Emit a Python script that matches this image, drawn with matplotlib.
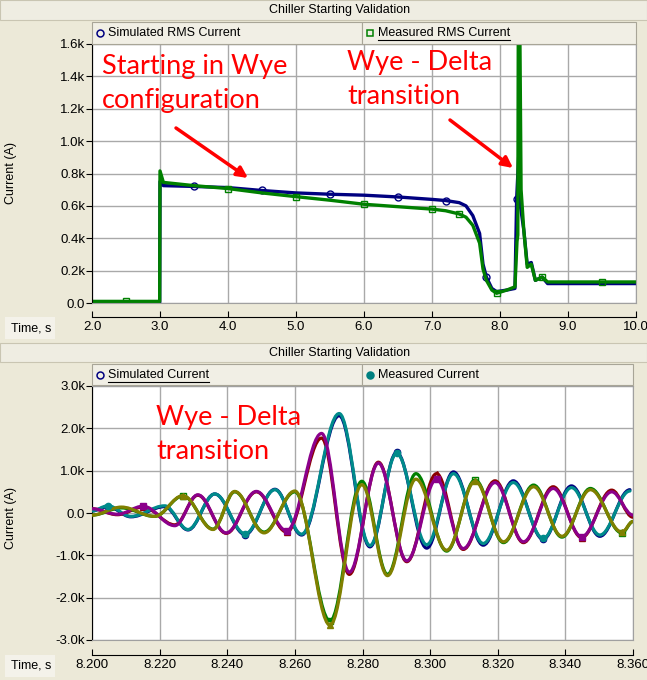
import numpy as np
import matplotlib
matplotlib.use("Agg")
import matplotlib.pyplot as plt
from matplotlib.path import Path
from matplotlib.patches import PathPatch, Rectangle
from matplotlib.lines import Line2D
from matplotlib.ticker import MultipleLocator, FuncFormatter

# ---- top panel: RMS current (kA) vs time (s) ----
sim_rms_t = [2.0, 2.5, 2.995, 3.0, 3.05, 3.5, 4.0, 4.5, 5.0, 5.5, 6.0, 6.5, 7.0, 7.2, 7.4, 7.5,
             7.6, 7.7, 7.75, 7.8, 7.88, 7.95, 8.1, 8.22, 8.245, 8.275, 8.30, 8.35, 8.40, 8.46,
             8.52, 8.62, 8.70, 9.0, 9.5, 10.0]
sim_rms = [0.0, 0.0, 0.0, 0.75, 0.725, 0.72, 0.713, 0.695, 0.68, 0.672, 0.666, 0.655, 0.64, 0.633,
           0.62, 0.60, 0.54, 0.43, 0.24, 0.16, 0.09, 0.07, 0.08, 0.09, 0.645, 0.91, 0.60, 0.45,
           0.24, 0.25, 0.14, 0.16, 0.12, 0.12, 0.12, 0.12]
meas_rms_t = [2.0, 2.5, 2.995, 3.0, 3.05, 3.5, 4.0, 4.5, 5.0, 5.5, 6.0, 6.5, 7.0, 7.2, 7.4, 7.5,
              7.6, 7.7, 7.75, 7.8, 7.88, 7.95, 8.1, 8.22, 8.25, 8.262, 8.27, 8.29, 8.31, 8.35,
              8.40, 8.46, 8.52, 8.62, 8.70, 9.0, 9.5, 10.0]
meas_rms = [0.01, 0.01, 0.01, 0.816, 0.745, 0.725, 0.707, 0.68, 0.657, 0.635, 0.61, 0.595, 0.58,
            0.57, 0.55, 0.53, 0.48, 0.37, 0.21, 0.14, 0.08, 0.06, 0.08, 0.10, 0.38, 0.42, 1.9,
            1.8, 0.70, 0.45, 0.22, 0.24, 0.14, 0.16, 0.13, 0.13, 0.13, 0.13]

# ---- bottom panel: phase currents (kA), peaks and troughs ----
ph_a_t = [8.200, 8.2047, 8.2115, 8.2215, 8.2284, 8.2363, 8.2453, 8.2541, 8.2620, 8.2731, 8.2822,
          8.2901, 8.2990, 8.3069, 8.3157, 8.3246, 8.3334, 8.3418, 8.3502, 8.3591]
meas_a = [0.05, 0.17, -0.08, 0.17, -0.39, 0.45, -0.49, 0.55, -0.50, 2.35, -0.77, 1.41, -0.75,
          0.93, -0.72, 0.72, -0.60, 0.60, -0.52, 0.52]
sim_a = [0.05, 0.15, -0.09, 0.15, -0.40, 0.45, -0.51, 0.56, -0.52, 2.30, -0.80, 1.43, -0.83,
         0.97, -0.76, 0.76, -0.62, 0.64, -0.55, 0.55]

ph_b_t = [8.200, 8.2075, 8.2151, 8.2245, 8.2313, 8.2397, 8.2486, 8.2576, 8.2679, 8.2761, 8.2847,
          8.2931, 8.3019, 8.3098, 8.3192, 8.3276, 8.3364, 8.3448, 8.3537, 8.360]
meas_b = [0.10, -0.03, 0.16, -0.30, 0.43, -0.47, 0.51, -0.42, 1.88, -1.40, 1.18, -1.13, 0.80,
          -0.84, 0.72, -0.68, 0.58, -0.56, 0.50, -0.05]
sim_b = [0.10, -0.04, 0.14, -0.28, 0.42, -0.48, 0.50, -0.45, 1.77, -1.45, 1.20, -1.15, 0.93,
         -0.86, 0.76, -0.70, 0.62, -0.58, 0.54, -0.10]

ph_c_t = [8.200, 8.2087, 8.2185, 8.2269, 8.2358, 8.2422, 8.2509, 8.2600, 8.2704, 8.2798, 8.2874,
          8.2958, 8.3049, 8.3133, 8.3217, 8.3306, 8.3390, 8.3474, 8.3567, 8.360]
meas_c = [-0.05, 0.14, -0.08, 0.41, -0.39, 0.51, -0.47, 0.52, -2.65, 0.67, -1.48, 0.80, -0.88,
          0.75, -0.68, 0.62, -0.55, 0.55, -0.45, -0.20]
sim_c = [-0.05, 0.12, -0.08, 0.40, -0.38, 0.50, -0.45, 0.50, -2.55, 0.75, -1.45, 0.93, -0.90,
         0.78, -0.70, 0.66, -0.57, 0.58, -0.47, -0.20]

W, H = 647, 680
BG = '#ECE9D8'
GRID = '#A9A9A9'
FONT = 'Liberation Sans'


def fx(px):
    return px / W


def fy(py):
    return 1 - py / H


def smooth_path(t, y, k=0.3634):
    # cubic segments with flat tangents at each peak / trough
    verts = [(t[0], y[0])]
    codes = [Path.MOVETO]
    for i in range(len(t) - 1):
        dt = t[i + 1] - t[i]
        verts += [(t[i] + k * dt, y[i]), (t[i + 1] - k * dt, y[i + 1]), (t[i + 1], y[i + 1])]
        codes += [Path.CURVE4] * 3
    return Path(verts, codes)


def kfmt(v, _):
    if abs(v) < 1e-9:
        return '0.0'
    return f'{v:.1f}k'


fig = plt.figure(figsize=(W / 100, H / 100), dpi=100, facecolor=BG)


def title_bar(y0, y1, text):
    fig.add_artist(Rectangle((0, fy(y1)), 1, (y1 - y0) / H, transform=fig.transFigure,
                             facecolor='#EFEDE2', edgecolor='#C9C5B2', lw=0.8))
    fig.text(fx(340), fy((y0 + y1) / 2), text, ha='center', va='center',
             fontsize=9, family=FONT)


def legend_bar(y0, y1, x0, x1, xsep, left, right):
    for a, b in [(x0, xsep), (xsep, x1)]:
        fig.add_artist(Rectangle((fx(a), fy(y1)), (b - a) / W, (y1 - y0) / H,
                                 transform=fig.transFigure, facecolor='#F1EFE5',
                                 edgecolor='#A8A597', lw=0.8))
    yc = fy((y0 + y1) / 2)
    for (xs, label, mk, col, filled, ul) in [(x0, *left), (xsep, *right)]:
        fig.add_artist(Line2D([fx(xs + 8)], [yc], transform=fig.transFigure, marker=mk,
                              ms=5, mec=col, mfc=col if filled else 'none', mew=1.1))
        t = fig.text(fx(xs + 16), yc, label, ha='left', va='center', fontsize=9, family=FONT)
        if ul:
            fig.canvas.draw()
            bb = t.get_window_extent()
            fig.add_artist(Line2D([bb.x0 / W, bb.x1 / W], [fy((y0 + y1) / 2 + 7)] * 2,
                                  transform=fig.transFigure, color='black', lw=0.8))


def time_box(y0, y1):
    fig.add_artist(Rectangle((fx(5), fy(y1)), 50 / W, (y1 - y0) / H, transform=fig.transFigure,
                             facecolor='#F4F2EA', edgecolor='none'))
    fig.text(fx(11), fy((y0 + y1) / 2), 'Time, s', ha='left', va='center', fontsize=9,
             family=FONT)


def style_axes(ax, offset):
    ax.set_facecolor('white')
    for s in ['top', 'right', 'bottom']:
        ax.spines[s].set_color('#A0A0A0')
    ax.spines['left'].set_color('black')
    ax.grid(True, color=GRID, lw=1.0)
    ax.set_axisbelow(True)
    ax.tick_params(axis='x', length=0, labelbottom=False)
    ax.tick_params(axis='y', direction='out', length=4, labelsize=9.5, pad=1)
    for lab in ax.get_yticklabels():
        lab.set_family(FONT)
    ax.yaxis.set_major_formatter(FuncFormatter(kfmt))
    sec = ax.secondary_xaxis(offset)
    sec.xaxis.set_major_locator(ax.xaxis.get_major_locator())
    sec.tick_params(direction='in', length=4, labelsize=9.5, pad=3)
    sec.spines['bottom'].set_color('black')
    return sec


# ---------------- top panel ----------------
title_bar(0, 20, 'Chiller Starting Validation')
legend_bar(22, 44, 92, 636, 362,
           ('Simulated RMS Current', 'o', '#000080', False, False),
           ('Measured RMS Current', 's', '#008000', False, True))

ax1 = fig.add_axes([fx(92), fy(303), 544 / W, 259 / H])
ax1.set_xlim(2.0, 10.0)
ax1.set_ylim(0, 1.6)
ax1.xaxis.set_major_locator(MultipleLocator(1.0))
ax1.yaxis.set_major_locator(MultipleLocator(0.2))
sec1 = style_axes(ax1, -14 / 259)
sec1.xaxis.set_major_formatter(FuncFormatter(lambda v, _: f'{v:.1f}'))
ax1.set_ylabel('Current (A)', fontsize=9, family=FONT)
ax1.yaxis.set_label_coords((17 - 92) / 544, 0.5)

ax1.plot(sim_rms_t, sim_rms, color='#000080', lw=2.4, solid_joinstyle='round',
         marker='o', ms=5, mfc='none', mew=1.0, markevery=[5, 7, 9, 11, 13, 19, 24])
ax1.plot(meas_rms_t, meas_rms, color='#008000', lw=2.4, solid_joinstyle='round',
         marker='s', ms=5, mfc='none', mew=1.0, markevery=[1, 6, 8, 10, 12, 14, 21, 33, 36])
time_box(317, 339)

# ---------------- bottom panel ----------------
title_bar(343, 362, 'Chiller Starting Validation')
legend_bar(364, 385, 92, 633, 362,
           ('Simulated Current', 'o', '#000080', False, True),
           ('Measured Current', 'o', '#008080', True, False))

ax2 = fig.add_axes([fx(92), fy(640), 541 / W, 254 / H])
ax2.set_xlim(8.200, 8.360)
ax2.set_ylim(-3.0, 3.0)
ax2.xaxis.set_major_locator(MultipleLocator(0.02))
ax2.yaxis.set_major_locator(MultipleLocator(1.0))
sec2 = style_axes(ax2, -15 / 254)
sec2.xaxis.set_major_formatter(FuncFormatter(lambda v, _: f'{v:.3f}'))
ax2.set_ylabel('Current (A)', fontsize=9, family=FONT)
ax2.yaxis.set_label_coords((17 - 92) / 541, 0.48)

series = [
    (ph_a_t, sim_a, '#000080', 'o', False, 2),
    (ph_b_t, sim_b, '#8B0000', '^', False, 2),
    (ph_c_t, sim_c, '#008000', 's', False, 2),
    (ph_a_t, meas_a, '#008B8B', 'o', True, 3),
    (ph_b_t, meas_b, '#8B008B', 's', True, 3),
    (ph_c_t, meas_c, '#808000', '^', True, 3),
]
for i, (t, y, col, mk, filled, z) in enumerate(series):
    ax2.add_patch(PathPatch(smooth_path(t, y), fill=False, edgecolor=col, lw=2.3,
                            joinstyle='round', capstyle='round', zorder=z))
    ax2.plot(t, y, ls='none', marker=mk, ms=4.5, mec=col, mfc=col if filled else 'none',
             mew=1.0, markevery=slice(1 + i % 3, None, 5), zorder=z + 0.5)
time_box(655, 677)

for sec in (sec1, sec2):
    for lab in sec.get_xticklabels():
        lab.set_family(FONT)

# ---------------- annotations ----------------
ann = dict(color='#FF0000', fontsize=19.5, family='Lato', ha='left', va='top', linespacing=1.45)
fig.text(fx(102), fy(54), 'Starting in Wye\nconfiguration', **ann)
fig.text(fx(347), fy(50), 'Wye - Delta\ntransition', **ann)
fig.text(fx(156), fy(405), 'Wye - Delta\ntransition', **ann)
arrow = dict(arrowstyle='-|>', color='#FF0000', lw=2.5, mutation_scale=16,
             shrinkA=0, shrinkB=0)
ax1.annotate('', xy=(fx(248), fy(178)), xytext=(fx(176), fy(128)),
             xycoords='figure fraction', textcoords='figure fraction', arrowprops=arrow)
ax1.annotate('', xy=(fx(513), fy(168)), xytext=(fx(450), fy(120)),
             xycoords='figure fraction', textcoords='figure fraction', arrowprops=arrow)

fig.savefig('out.png', dpi=100, facecolor=BG)
